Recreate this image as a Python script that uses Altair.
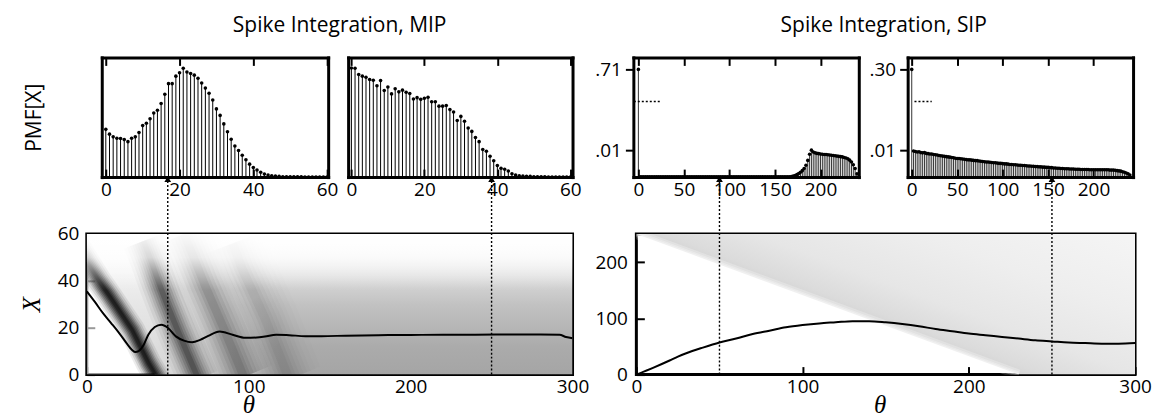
import altair as alt
import pandas as pd

FONT = "Open Sans"
SERIF = "Liberation Serif"

# ---------------- data ----------------
mip_bins = list(range(0, 61))
pmf_mip_a = [140, 126, 118, 114, 113, 110, 104, 114, 118, 131, 151, 158, 171, 188, 196, 216,
             243, 274, 274, 296, 306, 319, 308, 304, 299, 290, 276, 261, 246, 226, 200, 181,
             156, 133, 111, 91, 78, 64, 51, 38, 28, 21, 14, 9, 6, 4, 3, 2,
             1, 1, 1, 1, 1, 1, 0.5, 0.5, 0.5, 0.5, 0.5, 0.5, 0.5]
pmf_mip_b = [320, 319, 301, 296, 293, 286, 284, 268, 283, 254,
             264, 244, 259, 250, 255, 249, 245, 229, 233, 228,
             231, 234, 221, 221, 208, 208, 210, 198, 191, 166,
             178, 164, 144, 134, 116, 104, 81, 76, 61, 48,
             34, 26, 23, 18, 10, 6, 4, 3,
             2, 2, 1, 1, 1, 1, 0.5, 0.5, 0.5, 0.5, 0.5, 0.5, 0.5]

sip_bins = list(range(0, 241, 2))
pmf_sip_a = [0.71, 0.0001, 0.0001, 0.0001, 0.0001, 0.0001, 0.0001, 0.0001, 0.0001, 0.0001,
             0.0001, 0.0001, 0.0001, 0.0001, 0.0001, 0.0001, 0.0001, 0.0001, 0.0001, 0.0001,
             0.0001, 0.0001, 0.0001, 0.0001, 0.0001, 0.0001, 0.0001, 0.0001, 0.0001, 0.0001,
             0.0001, 0.0001, 0.0001, 0.0001, 0.0001, 0.0001, 0.0001, 0.0001, 0.0001, 0.0001,
             0.0001, 0.0001, 0.0001, 0.0001, 0.0001, 0.0001, 0.0001, 0.0001, 0.0001, 0.0001,
             0.0001, 0.0001, 0.0001, 0.0001, 0.0001, 0.0001, 0.0001, 0.0001, 0.0001, 0.0001,
             0.0001, 0.0001, 0.0001, 0.0001, 0.0001, 0.0001, 0.0001, 0.0001, 0.0001, 0.0001,
             0.0001, 0.0001, 0.0001, 0.0001, 0.0001, 0.0001, 0.0001, 0.0001, 0.0001, 0.0001,
             0.0001, 0.0001, 0.0001, 0.0001, 0.0002, 0.0004, 0.0006, 0.0009, 0.0013, 0.0018,
             0.0024, 0.0032, 0.0044, 0.0062, 0.0085, 0.0103, 0.0093, 0.0090, 0.0088, 0.0087,
             0.0086, 0.0085, 0.0084, 0.0084, 0.0083, 0.0082, 0.0081, 0.0080, 0.0079, 0.0078,
             0.0077, 0.0076, 0.0075, 0.0073, 0.0071, 0.0068, 0.0063, 0.0056, 0.0046, 0.0032,
             0.0012]
pmf_sip_b = [0.30, 0.0097, 0.0095, 0.0093, 0.0094, 0.0091, 0.0090, 0.0091, 0.0088, 0.0087,
             0.0086, 0.0086, 0.0084, 0.0083, 0.0082, 0.0080, 0.0079, 0.0078, 0.0077, 0.0076,
             0.0075, 0.0074, 0.0073, 0.0072, 0.0070, 0.0069, 0.0069, 0.0068, 0.0067, 0.0066,
             0.0065, 0.0064, 0.0064, 0.0063, 0.0062, 0.0061, 0.0061, 0.0060, 0.0059, 0.0058,
             0.0057, 0.0056, 0.0056, 0.0055, 0.0054, 0.0053, 0.0053, 0.0052, 0.0051, 0.0051,
             0.0050, 0.0049, 0.0049, 0.0048, 0.0047, 0.0047, 0.0046, 0.0046, 0.0045, 0.0044,
             0.0044, 0.0043, 0.0043, 0.0042, 0.0041, 0.0041, 0.0040, 0.0040, 0.0039, 0.0039,
             0.0038, 0.0038, 0.0037, 0.0037, 0.0036, 0.0036, 0.0035, 0.0035, 0.0034, 0.0034,
             0.0033, 0.0033, 0.0032, 0.0032, 0.0031, 0.0031, 0.0031, 0.0030, 0.0030, 0.0030,
             0.0029, 0.0029, 0.0029, 0.0028, 0.0028, 0.0028, 0.0028, 0.0028, 0.0027, 0.0027,
             0.0027, 0.0027, 0.0027, 0.0027, 0.0027, 0.0027, 0.0027, 0.0027, 0.0027, 0.0026,
             0.0026, 0.0026, 0.0025, 0.0024, 0.0023, 0.0022, 0.0020, 0.0018, 0.0015, 0.0012,
             0.0008]
brk_sip_a = {"b1": [-5], "b2": [24], "by": [0.432]}
brk_sip_b = {"b1": [3], "b2": [22], "by": [0.185]}

mip_theta = [0, 5, 10, 15, 20, 25, 28, 30, 32, 35, 38, 42, 46, 50, 55, 60, 65, 70, 75, 82,
             90, 98, 105, 110, 117, 125, 135, 145, 160, 180, 200, 220, 240, 260, 280, 292, 296, 300]
mip_mean = [35.5, 31, 26.2, 22, 17.7, 13, 10.5, 9.6, 10, 12.5, 17, 20.3, 21.3, 20, 16.3, 14.5,
            13.8, 14.8, 16.5, 18.4, 17, 15.7, 15.8, 16.2, 17, 16.8, 16.4, 16.4, 16.6, 16.8,
            16.9, 17, 17, 17.1, 17.1, 17, 16, 15.5]
sip_theta = [0, 10, 20, 25, 30, 40, 50, 60, 70, 80, 90, 100, 110, 120, 130, 140, 150, 160, 170,
             180, 190, 200, 210, 220, 230, 240, 250, 260, 270, 280, 290, 300]
sip_mean = [0, 12, 25, 32, 38, 48, 57, 64, 72, 78, 84, 88, 91, 93, 95, 95, 93, 90, 86,
            81, 77, 73, 70, 67, 64, 61, 59, 57, 56, 55, 55, 56]

# MIP density: ridges of probability mass (centre lines), core width px, darkness
ridge1_theta = [-6, -2, 7, 14, 28, 38, 44]
ridge1_x = [55, 50.5, 40.5, 33.5, 19, 5, -2]
ridge2_theta = [35, 40, 43, 49, 56, 64, 69]
ridge2_x = [57, 48, 42, 31, 19, 6, -2]
ridge3_theta = [60, 66, 73, 85, 97]
ridge3_x = [60, 50, 38, 19, -1]
ridge4_theta = [90, 96, 110, 125]
ridge4_x = [56, 45, 24, -2]
ridge_width = [10, 16, 24, 26]
ridge_dark = [0.92, 0.45, 0.22, 0.1]
mip_bg_theta = [0, 7, 14, 28, 38, 42, 300]
mip_bg_low = [48, 40.5, 33.5, 19, 5, 0, 0]
mip_fade_theta = [0, 120]
mip_topfade_x = [36, 60]
sip_edge_theta = [0, 230, 300]
sip_edge_x = [250, 0, 0]

arrow_theta = [50, 250]

# ---------------- helpers ----------------
def grad(stops, x1=0, y1=0, x2=0, y2=1):
    return alt.LinearGradient(
        gradient="linear", x1=x1, y1=y1, x2=x2, y2=y2,
        stops=[alt.GradientStop(offset=o, color=c) for o, c in stops])


FRAME = dict(domain=True, domainColor="black", domainWidth=3, domainCap="square",
             ticks=False, labels=False, title=None, zindex=2)


def x_bottom(values, pad, **kw):
    return alt.Axis(orient="bottom", values=values, offset=-8, tickSize=8, tickWidth=2,
                    labelPadding=pad, labelFlush=False, labelOverlap=False, domain=False,
                    format="d", **kw)


def x_top(values):
    return alt.Axis(orient="top", values=values, offset=-8, tickSize=8, tickWidth=2,
                    labels=False, domain=False, title=None)


def top_chart(panels, W, title):
    layers = []
    for P in panels:
        df = pd.DataFrame({"X": P["bins"], "v": P["vals"]})
        df["zero"] = 0.0
        a, b = P["xrange"]
        xs = alt.Scale(domain=P["xdom"], range=[a, b], nice=False, zero=False)
        ys = P["yscale"]
        base = alt.Chart(df)
        stems = base.mark_rule(color="black", strokeWidth=P["sw"]).encode(
            x=alt.X("X:Q", scale=xs, axis=x_bottom(P["xticks"], 3, title=None)),
            y=alt.Y("v:Q", scale=ys, axis=alt.Axis(orient="left", offset=-a, **P["left"])),
            y2="zero:Q")
        pts = base.mark_circle(color="black", size=13, opacity=1).encode(
            x=alt.X("X:Q", scale=xs, axis=x_top(P["xticks"])),
            y=alt.Y("v:Q", scale=ys, axis=alt.Axis(orient="right", offset=b - W, **FRAME)))
        fb = base.mark_point(opacity=0).encode(
            x=alt.X("X:Q", scale=xs, axis=alt.Axis(orient="bottom", offset=0, **FRAME)),
            y=alt.Y("v:Q", scale=ys, axis=None))
        ft = base.mark_point(opacity=0).encode(
            x=alt.X("X:Q", scale=xs, axis=alt.Axis(orient="top", offset=0, **FRAME)),
            y=alt.Y("v:Q", scale=ys, axis=None))
        layers += [stems, pts, fb, ft]
        if P.get("brk") is not None:
            layers.append(alt.Chart(pd.DataFrame(P["brk"])).mark_rule(
                color="black", strokeWidth=1.5, strokeDash=[2, 2]).encode(
                x=alt.X("b1:Q", scale=xs, axis=None), x2="b2:Q",
                y=alt.Y("by:Q", scale=ys, axis=None)))
    return alt.layer(*layers).resolve_scale(x="independent", y="independent").resolve_axis(
        x="independent", y="independent").properties(
        width=W, height=120, title=title, view=alt.ViewBackground(stroke="transparent"))


# ---------------- top row ----------------
mip_y = alt.Scale(domain=[0, 351], range=[120, 0], nice=False, zero=False)
pmf_left = dict(domain=True, domainColor="black", domainWidth=3, domainCap="square",
                ticks=False, labels=False, zindex=2, title="PMF[X]",
                titleFont=FONT, titleFontSize=21, titleFontWeight="normal",
                titleX=-67, titleY=60, titleAngle=-90, titleAlign="center",
                titleBaseline="middle")


def sip_left(top):
    return dict(domain=True, domainColor="black", domainWidth=3, domainCap="square",
                zindex=2, values=[0.01, top],
                labelExpr="substring(format(datum.value, '.2f'), 1)",
                tickSize=8, tickWidth=2, labelPadding=4, title=None)


ys_a = alt.Scale(domain=[0, 0.01, 0.71, 0.81], range=[120, 93, 12, 0], nice=False, zero=False)
ys_b = alt.Scale(domain=[0, 0.01, 0.30, 0.343], range=[120, 93, 12, 0], nice=False, zero=False)

mip_top = top_chart([
    dict(bins=mip_bins, vals=pmf_mip_a, xdom=[-1.1, 60.3], xrange=[15, 242],
         xticks=[0, 20, 40, 60], yscale=mip_y, left=pmf_left, sw=1),
    dict(bins=mip_bins, vals=pmf_mip_b, xdom=[-0.9, 60.6], xrange=[262, 487],
         xticks=[0, 20, 40, 60], yscale=mip_y, left=FRAME, sw=1),
], 487, alt.TitleParams("Spike Integration, MIP", anchor="middle", offset=20, dx=10))

sip_top = top_chart([
    dict(bins=sip_bins, vals=pmf_sip_a, xdom=[-5.5, 242], xrange=[-3, 223],
         xticks=[0, 50, 100, 150, 200], yscale=ys_a, left=sip_left(0.71), sw=0.8,
         brk=brk_sip_a),
    dict(bins=sip_bins, vals=pmf_sip_b, xdom=[-4.5, 243.5], xrange=[272, 498],
         xticks=[0, 50, 100, 150, 200], yscale=ys_b, left=sip_left(0.30), sw=0.8,
         brk=brk_sip_b),
], 500, alt.TitleParams("Spike Integration, SIP", anchor="middle", offset=20, dx=-2))

# ---------------- bottom row ----------------
theta_kw = dict(title="θ", titleFont=SERIF, titleFontStyle="italic", titleFontSize=25,
                titleFontWeight="normal", titleY=46, titleBaseline="alphabetic",
                titleAlign="center")
x_title_kw = dict(titleFont=SERIF, titleFontStyle="italic", titleFontSize=25,
                  titleFontWeight="normal", titleAngle=-90, titleAlign="center",
                  titleBaseline="middle")


def y_left(values, pad, title, tx):
    return alt.Axis(orient="left", values=values, offset=-8, tickSize=8, tickWidth=2,
                    labelPadding=pad, domain=False, format="d", title=title,
                    titleX=tx, titleY=70.5, **(x_title_kw if title else {}))


def y_right(values):
    return alt.Axis(orient="right", values=values, offset=-8, tickSize=8, tickWidth=2,
                    labels=False, domain=False, title=None)


def arrows(xs):
    df = pd.DataFrame({"theta": arrow_theta})
    line = alt.Chart(df).mark_rule(color="black", strokeWidth=1.4, strokeDash=[2, 2]).encode(
        x=alt.X("theta:Q", scale=xs, axis=None), y=alt.value(141), y2=alt.value(-53))
    head = alt.Chart(df).mark_point(shape="triangle-up", filled=True, size=45, color="black",
                                    opacity=1).encode(
        x=alt.X("theta:Q", scale=xs, axis=None), y=alt.value(-55))
    return [line, head]


xs_b = alt.Scale(domain=[0, 300], nice=False, zero=False)
ys_mip = alt.Scale(domain=[0, 60], nice=False, zero=False)
ys_sip = alt.Scale(domain=[0, 250], nice=False, zero=False)

mip_bg_df = pd.DataFrame({"t": mip_bg_theta, "lo": mip_bg_low})
mip_bg_df["hi"] = 60
bg = alt.Chart(mip_bg_df).mark_area(clip=True, color=grad([
    (0, "#ffffff"), (0.167, "#ececec"), (0.267, "#e1e1e1"), (0.367, "#d2d2d2"),
    (0.4, "#cecece"), (0.5, "#c2c2c2"), (0.65, "#b7b7b7"), (0.8, "#ababab"),
    (1, "#a5a5a5")])).encode(
    x=alt.X("t:Q", scale=xs_b, axis=x_bottom([0, 100, 200, 300], 3, titleX=162, **theta_kw)),
    y=alt.Y("lo:Q", scale=ys_mip, axis=y_left([0, 20, 40, 60], 8, "X", -63)),
    y2="hi:Q")

fade_df = pd.DataFrame({"t1": [mip_fade_theta[0]], "t2": [mip_fade_theta[1]],
                        "lo": [0], "hi": [60]})
fade = alt.Chart(fade_df).mark_rect(clip=True, color=grad([
    (0, "rgba(255,255,255,0.6)"), (0.35, "rgba(255,255,255,0.6)"),
    (0.6, "rgba(255,255,255,0.45)"), (0.85, "rgba(255,255,255,0.2)"),
    (1, "rgba(255,255,255,0)")], 0, 0, 1, 0)).encode(
    x=alt.X("t1:Q", scale=xs_b, axis=x_top([100, 200])), x2="t2:Q",
    y=alt.Y("lo:Q", scale=ys_mip, axis=y_right([20, 40])), y2="hi:Q")

ridge_rows = []
blur_w = [2.6, 2.2, 1.8, 1.5, 1.2, 0.9, 0.6, 0.35]
blur_a = [0.08, 0.12, 0.16, 0.2, 0.25, 0.3, 0.35, 0.4]
for k, (th, xx) in enumerate([(ridge1_theta, ridge1_x), (ridge2_theta, ridge2_x),
                              (ridge3_theta, ridge3_x), (ridge4_theta, ridge4_x)]):
    for j, (wf, af) in enumerate(zip(blur_w, blur_a)):
        for i, (t, x) in enumerate(zip(th, xx)):
            ridge_rows.append({"key": f"{k}-{j}", "i": i, "t": t, "x": x,
                               "sw": ridge_width[k] * wf, "op": ridge_dark[k] * af})
ridges = alt.Chart(pd.DataFrame(ridge_rows)).mark_line(
    clip=True, color="black", strokeCap="butt", strokeJoin="round").encode(
    x=alt.X("t:Q", scale=xs_b, axis=None), y=alt.Y("x:Q", scale=ys_mip, axis=None),
    detail="key:N", order="i:Q",
    strokeWidth=alt.StrokeWidth("sw:Q", scale=None),
    opacity=alt.Opacity("op:Q", scale=None))

topfade_df = pd.DataFrame({"t1": [0], "t2": [300], "lo": [mip_topfade_x[0]],
                           "hi": [mip_topfade_x[1]]})
topfade = alt.Chart(topfade_df).mark_rect(clip=True, color=grad([
    (0, "rgba(255,255,255,0.95)"), (0.42, "rgba(255,255,255,0.75)"),
    (0.67, "rgba(255,255,255,0.4)"), (0.92, "rgba(255,255,255,0.08)"),
    (1, "rgba(255,255,255,0)")])).encode(
    x=alt.X("t1:Q", scale=xs_b, axis=None), x2="t2:Q",
    y=alt.Y("lo:Q", scale=ys_mip, axis=None), y2="hi:Q")

mip_line = alt.Chart(pd.DataFrame({"theta": mip_theta, "m": mip_mean})).mark_line(
    color="black", strokeWidth=2, interpolate="monotone", clip=True).encode(
    x=alt.X("theta:Q", scale=xs_b, axis=None), y=alt.Y("m:Q", scale=ys_mip, axis=None))

b1 = alt.layer(bg, fade, ridges, topfade, mip_line, *arrows(xs_b)).resolve_axis(
    x="independent", y="independent").properties(width=487, height=141)

sip_df = pd.DataFrame({"t": sip_edge_theta, "lo": sip_edge_x})
sip_df["hi"] = 250
wedge = alt.Chart(sip_df).mark_area(clip=True, color=grad([
    (0, "#d4d4d4"), (0.06, "#dbdbdb"), (0.25, "#e6e6e6"), (0.6, "#eeeeee"), (1, "#f4f4f4")],
    0.38, 0.5, 0.98, 0.04)).encode(
    x=alt.X("t:Q", scale=xs_b, axis=x_bottom([0, 100, 200, 300], 3, titleX=244, **theta_kw)),
    y=alt.Y("lo:Q", scale=ys_sip, axis=y_left([0, 100, 200], 9, None, 0)),
    y2="hi:Q")
edge_rows = []
for wf, af in zip([10, 6, 3], [0.25, 0.3, 0.35]):
    edge_rows.append({"t1": sip_edge_theta[0], "x1": sip_edge_x[0], "t2": sip_edge_theta[1],
                      "x2": sip_edge_x[1], "sw": wf, "op": af})
edge_soft = alt.Chart(pd.DataFrame(edge_rows)).mark_rule(
    clip=True, color="white", strokeCap="butt").encode(
    x=alt.X("t1:Q", scale=xs_b, axis=None), x2="t2:Q",
    y=alt.Y("x1:Q", scale=ys_sip, axis=None), y2="x2:Q",
    strokeWidth=alt.StrokeWidth("sw:Q", scale=None),
    opacity=alt.Opacity("op:Q", scale=None))
sip_line = alt.Chart(pd.DataFrame({"theta": sip_theta, "m": sip_mean})).mark_line(
    color="black", strokeWidth=2, interpolate="monotone", clip=True).encode(
    x=alt.X("theta:Q", scale=xs_b, axis=x_top([100, 200])),
    y=alt.Y("m:Q", scale=ys_sip, axis=y_right([100, 200])))

b2 = alt.layer(wedge, edge_soft, sip_line, *arrows(xs_b)).resolve_axis(
    x="independent", y="independent").properties(width=500, height=141)

# ---------------- layout: 2x2 grid ----------------
chart = alt.concat(
    mip_top, sip_top, b1, b2,
    columns=2, bounds="flush",
    spacing=alt.RowColnumber(row=57, column=64),
).configure_view(stroke="black", strokeWidth=3).configure_axis(
    labelFont=FONT, labelFontSize=19, labelColor="black", tickColor="black", grid=False,
    titleColor="black").configure_title(
    font=FONT, fontSize=21, fontWeight="normal", color="black", anchor="middle").properties(
    padding={"left": 10, "top": 5, "right": 5, "bottom": 0})

chart.save("out.html", embed_options={"renderer": "svg", "actions": False})
